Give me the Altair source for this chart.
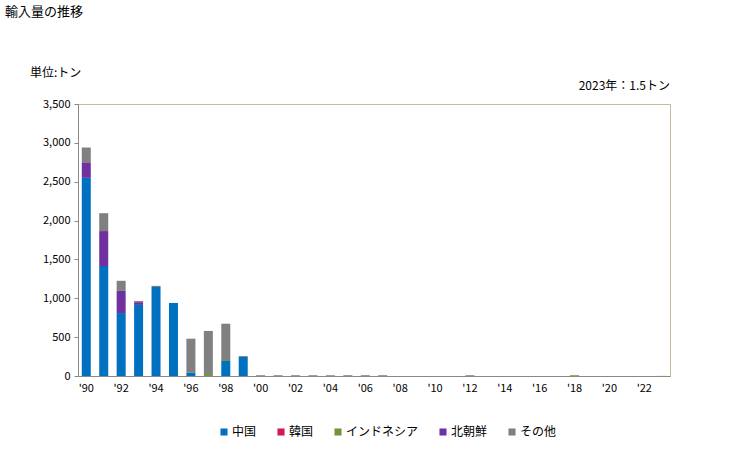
import altair as alt
import pandas as pd

years = [str(y) for y in range(1990, 2024)]
china = [2550, 1415, 810, 915, 1145, 940, 40, 0, 193, 245, 0, 0, 0, 0, 0, 0, 0, 0, 0, 0, 0, 0, 0, 0, 0, 0, 0, 0, 0, 0, 0, 0, 0, 0]
korea = [0] * 34
indonesia = [0, 0, 0, 0, 0, 0, 0, 25, 13, 0, 0, 0, 0, 0, 0, 0, 0, 0, 0, 0, 0, 0, 0, 0, 0, 0, 0, 0, 10, 0, 0, 0, 0, 0]
nkorea = [200, 450, 285, 35, 0, 0, 0, 0, 0, 0, 0, 0, 0, 0, 0, 0, 0, 0, 0, 0, 0, 0, 0, 0, 0, 0, 0, 0, 0, 0, 0, 0, 0, 0]
other = [190, 230, 130, 15, 15, 0, 440, 555, 467, 12, 10, 10, 10, 10, 10, 10, 10, 10, 0, 0, 0, 0, 10, 0, 0, 0, 0, 0, 0, 0, 0, 0, 0, 1.5]

series = ["中国", "韓国", "インドネシア", "北朝鮮", "その他"]
colors = ["#0070C0", "#D2185A", "#76923C", "#7030A0", "#808080"]
values = [china, korea, indonesia, nkorea, other]

rows = []
for si, (name, vals) in enumerate(zip(series, values)):
    for y, v in zip(years, vals):
        rows.append({"year": y, "series": name, "value": v, "order": si})
df = pd.DataFrame(rows)

FONT = "Noto Sans CJK JP"

bars = alt.Chart(df).mark_bar(size=9).encode(
    x=alt.X("year:N", sort=years, scale=alt.Scale(paddingInner=0.45, paddingOuter=0.2),
            axis=alt.Axis(title=None, labelAngle=0, ticks=False,
                          labelExpr="parseInt(datum.value) % 2 == 0 ? \"'\" + substring(datum.value, 2, 4) : ''",
                          labelFont=FONT, labelFontSize=11, labelColor="#000", labelPadding=6,
                          domainColor="#888888", labelOverlap=False)),
    y=alt.Y("value:Q", stack="zero", scale=alt.Scale(domain=[0, 3500]),
            axis=alt.Axis(title=None, values=list(range(0, 3501, 500)), format=",.0f",
                          grid=False, tickSize=4, tickColor="#888888", domainColor="#888888",
                          labelFont=FONT, labelFontSize=11, labelColor="#000", labelPadding=4)),
    color=alt.Color("series:N", sort=series, scale=alt.Scale(domain=series, range=colors),
                    legend=alt.Legend(title=None, orient="none", legendX=140, legendY=322,
                                      direction="horizontal", symbolType="square", symbolSize=50,
                                      labelFont=FONT, labelFontSize=12, columnPadding=18,
                                      symbolStrokeWidth=0, labelOffset=2)),
    order=alt.Order("order:Q"),
)

title_df = pd.DataFrame({"t": ["輸入量の推移"]})
title = alt.Chart(title_df).mark_text(align="left", baseline="middle", font=FONT, fontSize=13, color="#000").encode(
    x=alt.value(-73), y=alt.value(-92), text="t:N")
unit_df = pd.DataFrame({"t": ["単位:トン"]})
unit = alt.Chart(unit_df).mark_text(align="left", baseline="middle", font=FONT, fontSize=12, color="#000").encode(
    x=alt.value(-48), y=alt.value(-31), text="t:N")
note_df = pd.DataFrame({"t": ["2023年：1.5トン"]})
note = alt.Chart(note_df).mark_text(align="right", baseline="middle", font=FONT, fontSize=12, color="#000").encode(
    x=alt.value(592), y=alt.value(-18), text="t:N")

chart = alt.layer(bars, title, unit, note).properties(
    width=592, height=272,
    autosize=alt.AutoSizeParams(type="none"),
    padding={"left": 78, "top": 104, "right": 59, "bottom": 74},
    background="white",
).configure_view(stroke="#C8BC96", strokeWidth=1)

chart.save("out.html", embed_options={"renderer": "svg", "actions": False})
